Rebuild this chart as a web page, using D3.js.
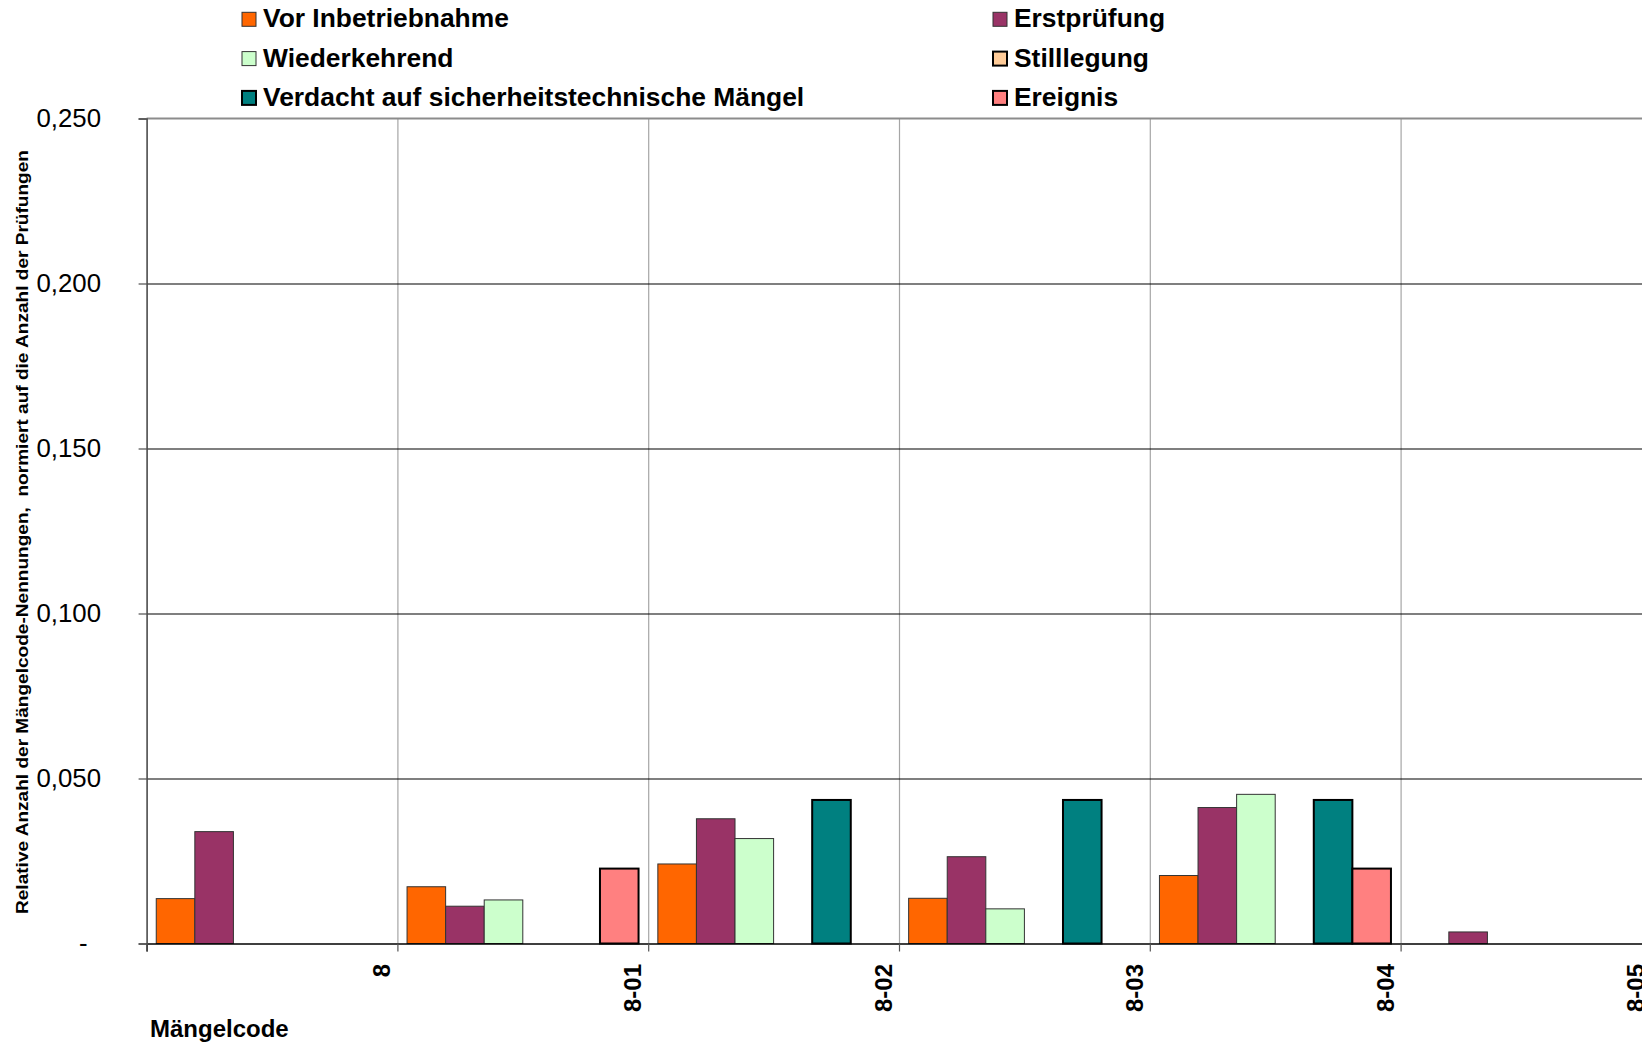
<!DOCTYPE html>
<html><head><meta charset="utf-8">
<script src="https://cdn.jsdelivr.net/npm/d3@7"></script>
<style>html,body{margin:0;padding:0;background:#fff;overflow:hidden}</style>
</head><body>
<svg id="chart" width="1642" height="1046"></svg>
<script>
// ---- data ----
const categories = ["8", "8-01", "8-02", "8-03", "8-04", "8-05"];
const seriesNames = ["Vor Inbetriebnahme", "Erstprüfung", "Wiederkehrend", "Stilllegung",
  "Verdacht auf sicherheitstechnische Mängel", "Ereignis"];
const vorInbetriebnahme = [0.0136, 0.0172, 0.0241, 0.0137, 0.0206, 0];
const erstpruefung      = [0.0339, 0.0113, 0.0378, 0.0263, 0.0412, 0.0035];
const wiederkehrend     = [0, 0.0132, 0.0318, 0.0105, 0.0452, 0];
const stilllegung       = [0, 0, 0, 0, 0, 0];
const verdacht          = [0, 0, 0.0435, 0.0435, 0.0435, 0];
const ereignis          = [0, 0.0227, 0, 0, 0.0227, 0];
const yTicks = [0, 0.05, 0.1, 0.15, 0.2, 0.25];
const yTickLabels = ["-", "0,050", "0,100", "0,150", "0,200", "0,250"];
const yTitle = "Relative Anzahl der Mängelcode-Nennungen,  normiert auf die Anzahl der Prüfungen";
const xTitle = "Mängelcode";

const seriesValues = [vorInbetriebnahme, erstpruefung, wiederkehrend, stilllegung, verdacht, ereignis];
const colors = ["#FF6600", "#993366", "#CCFFCC", "#FFCC99", "#008080", "#FF8080"];
const strokeW = [1, 1, 1, 2, 2, 2];
const strokeC = ["#333", "#333", "#333", "#000", "#000", "#000"];

// ---- layout ----
const FONT = "'Liberation Sans', Arial, sans-serif";
const pLeft = 146.6, pRight = 1651.4, pTop = 118.5, pBottom = 943.5;
const svg = d3.select("#chart").style("font-family", FONT);
svg.append("rect").attr("width", 1642).attr("height", 1046).attr("fill", "#fff");

const x0 = d3.scaleBand().domain(categories).range([pLeft, pRight]).padding(0);
const x1 = d3.scaleBand().domain(seriesNames).range([0, x0.bandwidth()]).paddingInner(0).paddingOuter(0.25);
const xb = d3.scaleLinear().domain([0, categories.length]).range([pLeft, pRight]);
const y = d3.scaleLinear().domain([0, 0.25]).range([pBottom, pTop]);

// vertical gridlines (gray)
svg.append("g").attr("transform", `translate(0,${pBottom})`)
  .call(d3.axisBottom(xb).tickValues(d3.range(1, categories.length + 1)).tickSize(-(pBottom - pTop)).tickFormat(""))
  .call(g => g.select(".domain").remove())
  .call(g => g.selectAll("line").attr("stroke", "#a6a6a6").attr("stroke-width", 1.2));

// horizontal gridlines (black)
svg.append("g").attr("transform", `translate(${pLeft},0)`)
  .call(d3.axisLeft(y).tickValues(yTicks.slice(1, -1)).tickSize(-(pRight - pLeft)).tickFormat(""))
  .call(g => g.select(".domain").remove())
  .call(g => g.selectAll("line").attr("stroke", "#000").attr("stroke-width", 1.2));

// top border
svg.append("line").attr("x1", pLeft).attr("x2", pRight).attr("y1", y(0.25)).attr("y2", y(0.25))
  .attr("stroke", "#8c8c8c").attr("stroke-width", 2);

// bars
const barData = categories.flatMap((c, ci) => seriesNames.map((s, si) => ({ c, s, si, v: seriesValues[si][ci] })))
  .filter(d => d.v > 0);
svg.append("g").selectAll("rect").data(barData).join("rect")
  .attr("x", d => x0(d.c) + x1(d.s))
  .attr("y", d => y(d.v))
  .attr("width", x1.bandwidth())
  .attr("height", d => y(0) - y(d.v))
  .attr("fill", d => colors[d.si])
  .attr("stroke", d => strokeC[d.si])
  .attr("stroke-width", d => strokeW[d.si]);

// x axis
const xAxis = svg.append("g").attr("transform", `translate(0,${pBottom})`)
  .call(d3.axisBottom(xb).tickValues(d3.range(0, categories.length + 1)).tickSize(8)
    .tickFormat(i => i > 0 ? categories[i - 1] : ""));
xAxis.select(".domain").attr("stroke", "#000").attr("stroke-width", 1.5);
xAxis.selectAll(".tick line").attr("stroke", "#555").attr("stroke-width", 1.2);
xAxis.selectAll(".tick text")
  .attr("transform", "translate(-7.5,20.5) rotate(-90)")
  .attr("x", 0).attr("y", 0).attr("dy", 0)
  .attr("text-anchor", "end")
  .attr("fill", "#000")
  .style("font-family", FONT).style("font-size", "24px").style("font-weight", "bold");

// y axis
const yAxis = svg.append("g").attr("transform", `translate(${pLeft},0)`)
  .call(d3.axisLeft(y).tickValues(yTicks).tickSize(8).tickPadding(37.6)
    .tickFormat((d, i) => yTickLabels[i]));
yAxis.select(".domain").attr("stroke", "#4d4d4d").attr("stroke-width", 1.6);
yAxis.selectAll(".tick line").attr("stroke", "#4d4d4d").attr("stroke-width", 1.2);
yAxis.selectAll(".tick text")
  .attr("fill", "#000")
  .style("font-family", FONT).style("font-size", "25.8px")
  .filter(d => d === 0).attr("x", -59);

// axis titles
svg.append("text").attr("transform", "translate(28,532) rotate(-90)")
  .attr("text-anchor", "middle").attr("textLength", 764).attr("lengthAdjust", "spacingAndGlyphs")
  .style("font-size", "17px").style("font-weight", "bold").style("white-space", "pre")
  .text(yTitle);
svg.append("text").attr("x", 150).attr("y", 1037)
  .style("font-size", "24px").style("font-weight", "bold").text(xTitle);

// legend
const colX = [242, 993], rowY = [27.3, 66.6, 105.9];
const lg = svg.append("g").selectAll("g").data(seriesNames).join("g")
  .attr("transform", (d, i) => `translate(${colX[i % 2]},${rowY[Math.floor(i / 2)]})`);
lg.append("rect").attr("x", 0).attr("y", -15).attr("width", 14).attr("height", 14)
  .attr("fill", (d, i) => colors[i]).attr("stroke", (d, i) => strokeC[i]).attr("stroke-width", (d, i) => strokeW[i]);
lg.append("text").attr("x", 21).attr("y", 0)
  .style("font-size", "26.4px").style("font-weight", "bold").text(d => d);
</script>
</body></html>
